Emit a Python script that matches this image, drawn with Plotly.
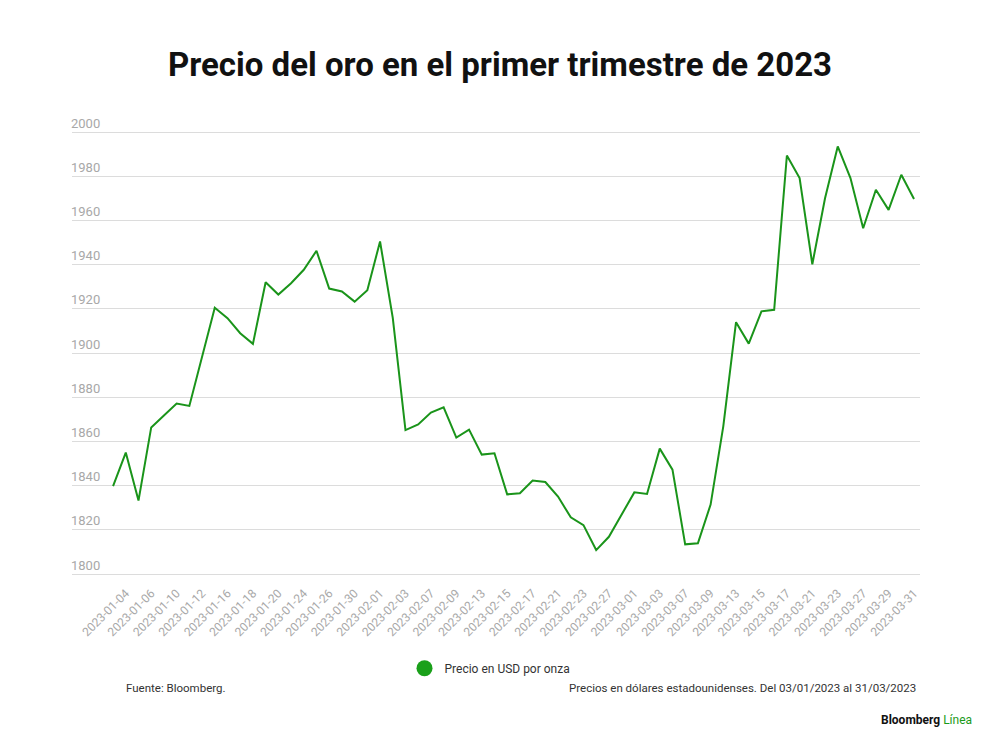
import plotly.graph_objects as go

# trading days, Q1 2023
fechas = [
    "2023-01-03", "2023-01-04", "2023-01-05", "2023-01-06", "2023-01-09", "2023-01-10",
    "2023-01-11", "2023-01-12", "2023-01-13", "2023-01-16", "2023-01-17", "2023-01-18",
    "2023-01-19", "2023-01-20", "2023-01-23", "2023-01-24", "2023-01-25", "2023-01-26",
    "2023-01-27", "2023-01-30", "2023-01-31", "2023-02-01", "2023-02-02", "2023-02-03",
    "2023-02-06", "2023-02-07", "2023-02-08", "2023-02-09", "2023-02-10", "2023-02-13",
    "2023-02-14", "2023-02-15", "2023-02-16", "2023-02-17", "2023-02-20", "2023-02-21",
    "2023-02-22", "2023-02-23", "2023-02-24", "2023-02-27", "2023-02-28", "2023-03-01",
    "2023-03-02", "2023-03-03", "2023-03-06", "2023-03-07", "2023-03-08", "2023-03-09",
    "2023-03-10", "2023-03-13", "2023-03-14", "2023-03-15", "2023-03-16", "2023-03-17",
    "2023-03-20", "2023-03-21", "2023-03-22", "2023-03-23", "2023-03-24", "2023-03-27",
    "2023-03-28", "2023-03-29", "2023-03-30", "2023-03-31",
]

precio = [
    1839.8, 1855.0, 1833.3, 1866.4, 1871.8, 1877.2,
    1876.1, 1898.5, 1920.5, 1915.8, 1909.0, 1904.2,
    1932.1, 1926.5, 1931.6, 1937.7, 1946.3, 1929.2,
    1927.9, 1923.3, 1928.5, 1950.5, 1916.0, 1865.2,
    1867.7, 1873.1, 1875.5, 1861.8, 1865.4, 1854.1,
    1854.7, 1836.1, 1836.6, 1842.4, 1841.7, 1835.1,
    1825.7, 1822.2, 1810.9, 1816.9, 1826.8, 1837.0,
    1836.3, 1856.8, 1847.3, 1813.5, 1814.0, 1831.5,
    1867.0, 1914.0, 1904.3, 1918.9, 1919.6, 1989.4,
    1979.2, 1940.2, 1970.1, 1993.5, 1979.2, 1956.5,
    1973.9, 1964.8, 1980.7, 1969.7,
]

etiquetas_x = fechas[1::2]
ticks_y = [1800, 1820, 1840, 1860, 1880, 1900, 1920, 1940, 1960, 1980, 2000]

verde = "#1a941a"
gris = "#a8a8a8"

# the page puts the figure 8px in from the top-left corner
OFF = 8
# plot area in px (reference coordinates minus the offset)
L, R = 72 - OFF, 920 - OFF
T, B = 110.2 - OFF, 582.8 - OFF
W_p, H_p = R - L, B - T

def px(x, y):
    return (x - OFF - L) / W_p, (B - (y - OFF)) / H_p

fig = go.Figure()
fig.add_trace(go.Scatter(x=fechas, y=precio, mode="lines",
                         line=dict(color=verde, width=2), showlegend=False))
# legend entry only (round marker like the original)
fig.add_trace(go.Scatter(x=[None], y=[None], mode="markers", name="Precio en USD por onza",
                         marker=dict(color="#1aa01a", size=16, symbol="circle")))

lx, ly = px(490, 668)
fig.update_layout(
    width=1000, height=750,
    margin=dict(l=L, r=1000 - R, t=T, b=750 - B, autoexpand=False),
    paper_bgcolor="white", plot_bgcolor="white",
    font=dict(family="Roboto, Arial, sans-serif", color="#222"),
    title=dict(text="<b>Precio del oro en el primer trimestre de 2023</b>",
               x=(500 - OFF) / 1000, xanchor="center", y=1 - (64 - OFF) / 750, yanchor="middle",
               font=dict(family="Roboto, sans-serif", size=33, color="#111")),
    legend=dict(orientation="h", x=lx, xanchor="center", y=ly, yanchor="middle",
                font=dict(size=12, color="#333"), itemsizing="trace"),
)

fig.update_xaxes(type="category", range=[-3.23, 63.47], automargin=False,
                 tickmode="array", tickvals=etiquetas_x, ticktext=etiquetas_x,
                 tickangle=-45, tickfont=dict(size=12, color=gris),
                 showgrid=False, showline=False, ticks="", zeroline=False)
fig.update_yaxes(range=[1796, 2010], tickvals=ticks_y, automargin=False,
                 ticklabelposition="inside top", ticklabelstandoff=-4,
                 tickfont=dict(size=13, color=gris),
                 showgrid=True, gridcolor="#dcdcdc", gridwidth=1,
                 showline=False, zeroline=False, ticks="")

fx, fy = px(124, 688)
fig.add_annotation(text="Fuente: Bloomberg.", xref="paper", yref="paper",
                   x=fx, y=fy, xanchor="left", yanchor="middle",
                   showarrow=False, font=dict(size=11.5, color="#333"))
nx, ny = px(918, 688)
fig.add_annotation(text="Precios en dólares estadounidenses. Del 03/01/2023 al 31/03/2023",
                   xref="paper", yref="paper", x=nx, y=ny, xanchor="right", yanchor="middle",
                   showarrow=False, font=dict(size=11.5, color="#333"))
bx, by = px(974, 720)
fig.add_annotation(text="<b>Bloomberg</b> <span style='color:#1a9a1a'>Línea</span>",
                   xref="paper", yref="paper", x=bx, y=by, xanchor="right", yanchor="middle",
                   showarrow=False, font=dict(size=12, color="#111"))

fig.write_html("out.html")
